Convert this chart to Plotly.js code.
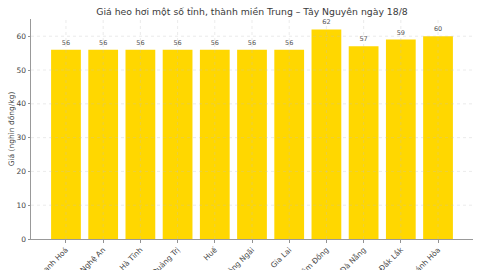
<!DOCTYPE html>
<html>
<head>
<meta charset="utf-8">
<script src="https://cdn.plot.ly/plotly-3.0.1.min.js"></script>
<style>
  html, body { margin: 0; padding: 0; background: #fff; }
  #chart { width: 480px; height: 270px; }
</style>
</head>
<body>
<div id="chart"></div>
<script>
// Live hog prices by province (thousand VND per kg)
const provinces = ["Thanh Hoá", "Nghệ An", "Hà Tĩnh", "Quảng Trị", "Huế", "Quảng Ngãi",
                   "Gia Lai", "Lâm Đồng", "Đà Nẵng", "Đắk Lắk", "Khánh Hòa"];
const prices = [56, 56, 56, 56, 56, 56, 56, 62, 57, 59, 60];
const yTickValues = [0, 10, 20, 30, 40, 50, 60];

const titleText = "Giá heo hơi một số tỉnh, thành miền Trung – Tây Nguyên ngày 18/8";
const yTitleText = "Giá (nghìn đồng/kg)";

const font = "DejaVu Sans, sans-serif";
const gridColor = "rgba(190,190,190,0.45)";

// Grid drawn on top of the bars
const gridShapes = [];
provinces.forEach(p => gridShapes.push({
  type: "line", layer: "above", xref: "x", yref: "paper",
  x0: p, x1: p, y0: 0, y1: 1,
  line: { color: gridColor, width: 0.7, dash: "dot" }
}));
yTickValues.slice(1).forEach(v => gridShapes.push({
  type: "line", layer: "above", xref: "paper", yref: "y",
  x0: 0, x1: 1, y0: v, y1: v,
  line: { color: gridColor, width: 0.7, dash: "dot" }
}));

const trace = {
  type: "bar",
  x: provinces,
  y: prices,
  marker: { color: "#FFD700", line: { width: 0 } },
  width: 0.8,
  text: prices.map(String),
  textposition: "outside",
  cliponaxis: false,
  textfont: { family: font, size: 6.5, color: "#555" },
  hoverinfo: "x+y"
};

const layout = {
  width: 480, height: 270,
  margin: { l: 31, r: 7, t: 19, b: 31 },
  paper_bgcolor: "#fff", plot_bgcolor: "#fff",
  showlegend: false,
  title: {
    text: titleText,
    font: { family: font, size: 9.3, color: "#3a3a3a" },
    x: 0.525, xanchor: "center", y: 0.955, yanchor: "middle"
  },
  xaxis: {
    type: "category",
    range: [-0.94, 10.94],
    tickangle: -45,
    tickfont: { family: font, size: 7.5, color: "#444" },
    showgrid: false, zeroline: false,
    showline: true, linecolor: "#999", linewidth: 1,
    ticks: "outside", ticklen: 2.5, tickcolor: "#777", tickwidth: 0.8,
    automargin: false
  },
  yaxis: {
    range: [0, 65.1],
    tickvals: yTickValues,
    tickfont: { family: font, size: 7.5, color: "#444" },
    showgrid: false, zeroline: false,
    showline: true, linecolor: "#999", linewidth: 1,
    ticks: "outside", ticklen: 2.5, tickcolor: "#777", tickwidth: 0.8,
    title: { text: yTitleText, font: { family: font, size: 7.5, color: "#444" }, standoff: 0 },
    automargin: false
  },
  bargap: 0.2,
  shapes: gridShapes
};

Plotly.newPlot("chart", [trace], layout, { displayModeBar: false, staticPlot: true });
</script>
</body>
</html>
